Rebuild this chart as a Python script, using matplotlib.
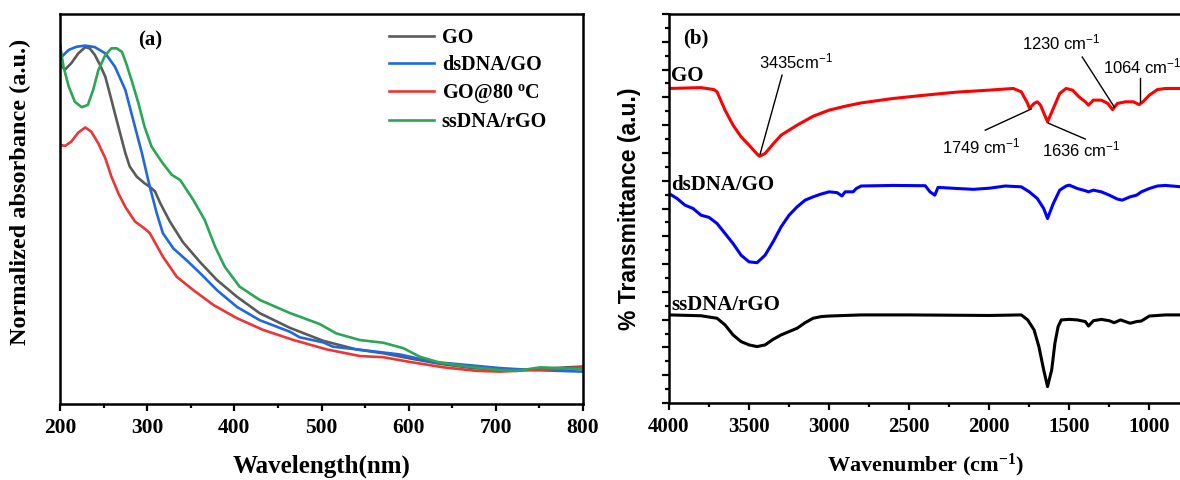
import numpy as np
import matplotlib
matplotlib.use('Agg')
from matplotlib import pyplot as plt
from matplotlib.ticker import MultipleLocator

plt.rcParams['font.family'] = ['Liberation Serif', 'DejaVu Serif']
plt.rcParams['font.weight'] = 'bold'
plt.rcParams['mathtext.default'] = 'regular'

# ---- (a) UV-vis, normalized absorbance ----
go_wl = [200, 206, 213, 221, 229, 234, 240, 246, 252, 257, 263, 269, 275, 280, 288,
         297, 303, 309, 315, 326, 341, 361, 380, 403, 429, 464, 502, 540, 571, 601,
         636, 674, 712, 751, 781, 800]
go_abs = [0.869, 0.858, 0.874, 0.899, 0.915, 0.912, 0.895, 0.869, 0.839, 0.797, 0.745,
          0.694, 0.643, 0.609, 0.583, 0.566, 0.557, 0.545, 0.515, 0.468, 0.415, 0.363,
          0.318, 0.275, 0.233, 0.195, 0.162, 0.140, 0.130, 0.117, 0.103, 0.092, 0.087,
          0.089, 0.094, 0.096]

ds_wl = [200, 210, 219, 229, 240, 252, 263, 275, 284, 294, 303, 311, 318, 330, 345,
         361, 380, 403, 429, 464, 475, 502, 513, 552, 590, 628, 667, 705, 743, 800]
ds_abs = [0.886, 0.908, 0.916, 0.919, 0.915, 0.899, 0.865, 0.805, 0.728, 0.643, 0.557,
          0.489, 0.438, 0.399, 0.369, 0.335, 0.292, 0.249, 0.215, 0.185, 0.171, 0.158,
          0.147, 0.137, 0.127, 0.108, 0.100, 0.092, 0.087, 0.083]

go80_wl = [200, 206, 213, 221, 229, 236, 244, 252, 259, 267, 275, 286, 297, 303, 318,
           334, 353, 376, 403, 433, 468, 506, 544, 571, 601, 640, 678, 705, 743, 781, 800]
go80_abs = [0.664, 0.662, 0.673, 0.696, 0.709, 0.698, 0.668, 0.630, 0.583, 0.540, 0.505,
            0.468, 0.450, 0.438, 0.378, 0.326, 0.292, 0.254, 0.220, 0.190, 0.164, 0.140,
            0.123, 0.120, 0.108, 0.094, 0.085, 0.083, 0.087, 0.091, 0.094]

ss_wl = [200, 204, 210, 217, 225, 232, 238, 244, 252, 259, 265, 271, 276, 282, 290,
         297, 305, 317, 328, 338, 353, 366, 378, 389, 406, 429, 464, 475, 498, 517,
         544, 571, 594, 613, 636, 667, 705, 724, 751, 774, 800]
ss_abs = [0.921, 0.865, 0.814, 0.775, 0.761, 0.767, 0.805, 0.856, 0.895, 0.912, 0.912,
          0.903, 0.873, 0.831, 0.771, 0.711, 0.660, 0.620, 0.588, 0.574, 0.523, 0.472,
          0.403, 0.352, 0.301, 0.267, 0.233, 0.224, 0.205, 0.181, 0.164, 0.157, 0.143,
          0.121, 0.106, 0.096, 0.087, 0.085, 0.094, 0.092, 0.089]

uv_labels = ['GO', 'dsDNA/GO', 'GO@80 $^{o}$C', 'ssDNA/rGO']
uv_colors = ['#5a5a5a', '#1f68e0', '#ee3535', '#2aa655']

# ---- (b) FTIR, % transmittance (offset, arbitrary units) ----
go_wn = [4000, 3800, 3720, 3700, 3650, 3600, 3550, 3500, 3450, 3435, 3400, 3350, 3300,
         3200, 3100, 3000, 2900, 2800, 2600, 2400, 2200, 2000, 1850, 1800, 1760, 1749,
         1720, 1700, 1680, 1636, 1600, 1560, 1520, 1480, 1440, 1400, 1380, 1350, 1300,
         1260, 1230, 1200, 1150, 1100, 1064, 1040, 1000, 950, 900, 800]
go_tr = [11.32, 11.35, 11.28, 11.20, 10.54, 10.00, 9.58, 9.28, 8.96, 8.88, 8.98, 9.32,
         9.64, 10.00, 10.32, 10.54, 10.68, 10.80, 10.96, 11.08, 11.19, 11.26, 11.32, 11.20,
         10.78, 10.60, 10.78, 10.84, 10.72, 10.12, 10.60, 11.14, 11.32, 11.26, 11.02, 10.84,
         10.72, 10.90, 10.90, 10.78, 10.56, 10.78, 10.84, 10.84, 10.74, 10.84, 11.08, 11.28,
         11.32, 11.32]

ds_wn = [4000, 3950, 3900, 3850, 3800, 3750, 3700, 3650, 3600, 3550, 3500, 3450, 3400,
         3350, 3300, 3250, 3200, 3150, 3100, 3050, 3000, 2950, 2920, 2900, 2850, 2830,
         2800, 2600, 2400, 2370, 2340, 2320, 2200, 2100, 2000, 1900, 1800, 1750, 1700,
         1660, 1636, 1600, 1560, 1520, 1500, 1450, 1400, 1380, 1350, 1300, 1250, 1200,
         1170, 1120, 1080, 1050, 1000, 950, 900, 800]
ds_tr = [7.54, 7.36, 7.12, 7.00, 6.76, 6.68, 6.46, 6.10, 5.74, 5.32, 5.08, 5.05, 5.32,
         5.80, 6.34, 6.76, 7.06, 7.30, 7.42, 7.52, 7.60, 7.57, 7.45, 7.60, 7.60, 7.72,
         7.81, 7.83, 7.82, 7.60, 7.48, 7.76, 7.72, 7.69, 7.73, 7.81, 7.78, 7.60, 7.36,
         7.00, 6.64, 7.18, 7.66, 7.81, 7.84, 7.72, 7.64, 7.60, 7.66, 7.60, 7.48, 7.34,
         7.30, 7.42, 7.48, 7.60, 7.72, 7.81, 7.83, 7.78]

ss_wn = [4000, 3800, 3700, 3650, 3600, 3550, 3500, 3450, 3400, 3350, 3300, 3250, 3200,
         3150, 3100, 3050, 3000, 2800, 2500, 2000, 1800, 1760, 1720, 1690, 1660, 1636,
         1610, 1590, 1570, 1550, 1500, 1450, 1400, 1380, 1350, 1300, 1250, 1220, 1180,
         1150, 1120, 1080, 1050, 1000, 900, 800]
ss_tr = [3.17, 3.14, 3.05, 2.81, 2.45, 2.21, 2.09, 2.03, 2.09, 2.29, 2.45, 2.57, 2.69,
         2.89, 3.05, 3.11, 3.13, 3.17, 3.17, 3.15, 3.17, 2.99, 2.63, 2.03, 1.19, 0.59,
         1.19, 2.15, 2.75, 2.99, 3.01, 2.99, 2.93, 2.77, 2.96, 3.01, 2.96, 2.89, 2.99,
         2.93, 2.87, 2.93, 2.95, 3.13, 3.17, 3.17]

fig = plt.figure(figsize=(11.8, 4.8), dpi=100)
ax1 = fig.add_axes([60 / 1180, 76 / 480, 523 / 1180, 390 / 480])
ax2 = fig.add_axes([669 / 1180, 77 / 480, 514 / 1180, 389 / 480])

# panel (a)
for x, y, lab, c in zip([go_wl, ds_wl, go80_wl, ss_wl],
                        [go_abs, ds_abs, go80_abs, ss_abs], uv_labels, uv_colors):
    ax1.plot(x, y, color=c, lw=1.9, label=lab, solid_joinstyle='round')
ax1.set_xlim(200, 800)
ax1.set_ylim(0, 1)
ax1.set_yticks([])
ax1.xaxis.set_major_locator(MultipleLocator(100))
ax1.xaxis.set_minor_locator(MultipleLocator(50))
ax1.tick_params(axis='x', which='major', direction='out', length=5, width=1.6,
                labelsize=15.5, pad=5)
ax1.tick_params(axis='x', which='minor', direction='out', length=3, width=1.6)
ax1.set_xlabel('Wavelength(nm)', fontsize=18, fontweight='bold')
ax1.xaxis.set_label_coords(0.5, -0.13)
ax1.set_ylabel('Normalized absorbance (a.u.)', fontsize=17.5, fontweight='bold')
ax1.yaxis.set_label_coords(-0.056, 0.545)
ax1.text(0.149, 0.933, '(a)', transform=ax1.transAxes, fontsize=15,
         fontweight='bold', va='center')
ax1.legend(loc='upper left', bbox_to_anchor=(0.63, 0.965), frameon=False,
           prop={'size': 14.5, 'weight': 'bold'}, handlelength=2.2,
           handletextpad=0.4, labelspacing=0.35, borderpad=0, borderaxespad=0)

# panel (b)
ax2.plot(go_wn, go_tr, color='#ff0000', lw=2.2)
ax2.plot(ds_wn, ds_tr, color='#0000ff', lw=2.2)
ax2.plot(ss_wn, ss_tr, color='black', lw=2.2)
ax2.set_xlim(4000, 790)
ax2.set_ylim(0, 14)
ax2.xaxis.set_major_locator(MultipleLocator(500))
ax2.xaxis.set_minor_locator(MultipleLocator(250))
ax2.yaxis.set_major_locator(MultipleLocator(1))
ax2.yaxis.set_minor_locator(MultipleLocator(0.5))
ax2.tick_params(axis='x', which='major', direction='out', length=5, width=1.6,
                labelsize=15, pad=5)
ax2.tick_params(axis='x', which='minor', direction='out', length=3, width=1.6)
ax2.tick_params(axis='y', which='major', direction='out', length=5, width=1.6,
                labelleft=False)
ax2.tick_params(axis='y', which='minor', direction='out', length=3, width=1.6)
ax2.set_xlabel('Wavenumber (cm$^{-1}$)', fontsize=16, fontweight='bold')
ax2.xaxis.set_label_coords(0.5, -0.125)
ax2.set_ylabel('% Transmittance (a.u.)', fontsize=16.5, fontweight='bold',
               family=['Liberation Sans', 'DejaVu Sans'])
ax2.yaxis.set_label_coords(-0.055, 0.5)
ax2.text(0.027, 0.936, '(b)', transform=ax2.transAxes, fontsize=15,
         fontweight='bold', va='center')

ax2.text(3985, 11.6, 'GO', fontsize=15, fontweight='bold', va='baseline')
ax2.text(3985, 7.65, 'dsDNA/GO', fontsize=15, fontweight='bold', va='baseline')
ax2.text(3985, 3.33, 'ssDNA/rGO', fontsize=15, fontweight='bold', va='baseline')

sans = ['Liberation Sans', 'DejaVu Sans']
notes = [
    ('3435cm$^{-1}$', (3431, 8.96), (3294, 11.8), (3437, 12.05)),
    ('1230 cm$^{-1}$', (1219, 10.65), (1419, 12.45), (1794, 12.73)),
    ('1064 cm$^{-1}$', (1056, 10.83), (1056, 11.69), (1287, 11.87)),
    ('1749 cm$^{-1}$', (1738, 10.58), (2025, 9.82), (2294, 9.0)),
    ('1636 cm$^{-1}$', (1631, 10.07), (1400, 9.50), (1669, 8.88)),
]
for txt, tip, tail, pos in notes:
    ax2.plot([tip[0], tail[0]], [tip[1], tail[1]], color='black', lw=1.0)
    ax2.text(pos[0], pos[1], txt, fontsize=12, fontweight='normal', family=sans,
             va='baseline', ha='left')

for ax in (ax1, ax2):
    for s in ax.spines.values():
        s.set_linewidth(1.8)

fig.savefig('out.png', dpi=100)
